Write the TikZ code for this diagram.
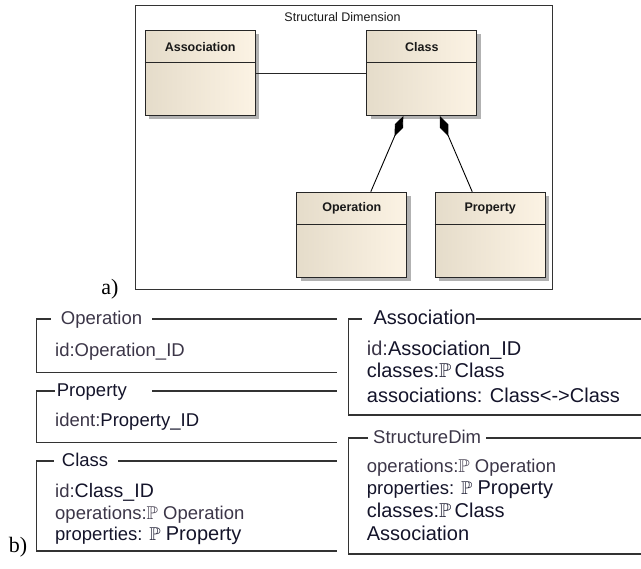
\documentclass[tikz,border=0pt]{standalone}
\usepackage{amssymb}
\usepackage{fontspec}
\setmainfont{Liberation Sans}
\newfontfamily\tagfont{Liberation Serif}
\usetikzlibrary{arrows.meta,positioning,shadows}

\definecolor{umlleft}{RGB}{229,220,202}
\definecolor{umlright}{RGB}{252,243,228}
\definecolor{zgray}{RGB}{60,54,72}
\definecolor{zdark}{RGB}{20,20,42}

\tikzset{
  umlclass/.style={draw=black!85, line width=1pt, left color=umlleft, right color=umlright,
    minimum width=110pt, minimum height=85pt, anchor=north west, inner sep=0pt,
    drop shadow={shadow xshift=4pt, shadow yshift=-4pt, fill=black!30, opacity=1}},
  umlname/.style={font=\fontsize{12.5}{14}\selectfont\bfseries, text=black!90},
  composite/.style={-{Diamond[length=22pt,width=9pt]}, line width=0.9pt},
  zline/.style={draw=black!80, line width=1.3pt},
  ztitle/.style={inner sep=0pt, anchor=west, text height=16pt, text depth=4pt,
    font=\fontsize{18.5}{20}\selectfont},
  zitem/.style={inner sep=0pt, anchor=base west, font=\fontsize{18.5}{20}\selectfont},
  zbig/.style={zitem, font=\fontsize{20}{22}\selectfont},
}

\begin{document}
\begin{tikzpicture}[x=1pt,y=-1pt]
  \useasboundingbox (0,0) rectangle (641,569);

  % ---- a) class diagram ----
  \node[draw=black!80, line width=1pt, minimum width=417pt, minimum height=284pt,
    anchor=north west, inner sep=0pt] (dim) at (134.7,5) {};
  \node[font=\fontsize{12.5}{14}\selectfont, text=black!90] (dimname) at (342.5,17) {Structural Dimension};

  \node[umlclass] (assoc) at (144.7,30) {};
  \node[umlclass] (class) at (366.3,30) {};
  \node[umlclass] (oper)  at (296.3,191.7) {};
  \node[umlclass] (prop)  at (434.7,191.7) {};
  % name compartments
  \foreach \c/\t in {assoc/Association, class/Class, oper/Operation, prop/Property}{
    \draw[black!85, line width=1pt] ([yshift=-33pt]\c.north west) -- ([yshift=-33pt]\c.north east);
    \node[umlname] (\c-name) at ([yshift=-17pt]\c.north) {\t};
  }

  \draw[black!85, line width=0.9pt] (assoc.east) -- (class.west);
  \draw[composite] ([xshift=19pt]oper.north) -- ([xshift=-18.5pt]class.south);
  \draw[composite] ([xshift=-18pt]prop.north) -- ([xshift=18pt]class.south);

  \node[font=\tagfont\fontsize{22}{24}\selectfont, anchor=base] (taga) at (110,295) {a)};

  % ---- b) schemas, left column ----
  \node[ztitle, text=zgray] (opT) at (60.7,319) {Operation};
  \draw[zline] ([xshift=-10pt]opT.west) -| (36.7,372.3) -- (337,372.3);
  \draw[zline] ([xshift=10pt]opT.east) -- (337,319);
  \node[zitem, text=zgray] (opId) at (55,357) {id:Operation\_ID};

  \node[ztitle, text=zdark] (prT) at (56.7,391) {Property};
  \draw[zline] ([xshift=-2pt]prT.west) -| (36.7,442.7) -- (337,442.7);
  \draw[zline] ([xshift=25pt]prT.east) -- (337,391);
  \node[zitem] (prId) at (55,426.5) {\textcolor{zgray}{ident:}\textcolor{zdark}{Property\_ID}};

  \node[ztitle, text=zdark] (clT) at (61.7,461) {Class};
  \draw[zline] ([xshift=-8pt]clT.west) -| (36.7,551) -- (337,551);
  \draw[zline] ([xshift=10pt]clT.east) -- (337,461);
  \node[zitem] (clId) at (55,498) {\textcolor{zgray}{id:}\textcolor{zdark}{\fontsize{19.5}{21}\selectfont Class\_ID}};
  \node[zitem, text=zgray] (clOp) at (55,519.5) {operations:$\mathbb{P}$ Operation};
  \node[zitem, text=zdark] (clPr) at (55,541) {properties: $\mathbb{P}$ \fontsize{20}{22}\selectfont Property};

  \node[font=\tagfont\fontsize{22}{24}\selectfont, anchor=base] (tagb) at (18,552.7) {b)};

  % ---- b) schemas, right column ----
  \node[ztitle, text=zdark, font=\fontsize{20}{22}\selectfont] (asT) at (373.3,319) {Association};
  \draw[zline] ([xshift=-11.5pt]asT.west) -| (348.3,415) -- (641,415);
  \draw[zline] (asT.east) -- (641,319);
  \node[zbig] (asId) at (366.7,355.5) {\textcolor{zgray}{id:}\textcolor{zdark}{Association\_ID}};
  \node[zbig, text=zdark] (asCl) at (366.7,378) {classes:$\mathbb{P}$\,Class};
  \node[zbig, text=zdark] (asAs) at (366.7,403) {associations: Class<->Class};

  \node[ztitle, text=zgray] (sdT) at (373,438) {StructureDim};
  \draw[zline] ([xshift=-5pt]sdT.west) -| (348.3,554) -- (641,554);
  \draw[zline] ([xshift=5pt]sdT.east) -- (641,438);
  \node[zitem, text=zgray] (sdOp) at (366.7,473) {operations:$\mathbb{P}$ Operation};
  \node[zitem, text=zdark] (sdPr) at (366.7,494.5) {properties: $\mathbb{P}$ \fontsize{20}{22}\selectfont Property};
  \node[zbig, text=zdark] (sdCl) at (366.7,518) {classes:$\mathbb{P}$\,Class};
  \node[zbig, text=zdark] (sdAs) at (366.7,541) {Association};
\end{tikzpicture}
\end{document}
